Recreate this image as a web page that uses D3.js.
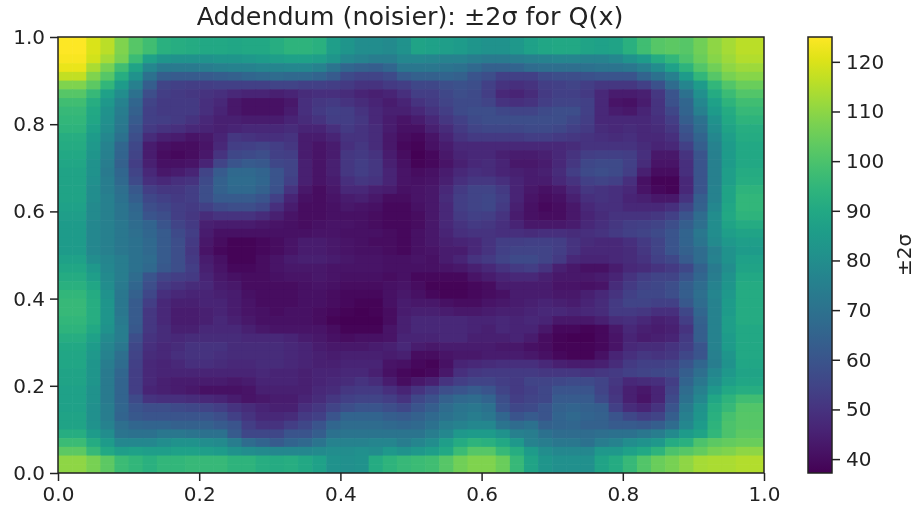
<!DOCTYPE html>
<html><head><meta charset="utf-8">
<style>html,body{margin:0;padding:0;background:#fff}svg{display:block;filter:blur(0.45px)}text{font-family:"DejaVu Sans",sans-serif;fill:#222}</style>
<script src="https://cdn.jsdelivr.net/npm/d3@7"></script></head><body><svg id="c" width="917" height="510"></svg>
<script>
const titleText="Addendum (noisier): ±2σ for Q(x)";
const colorbarLabel="±2σ";
const axisTicks=[0,0.2,0.4,0.6,0.8,1.0];
const colorTicks=[40,50,60,70,80,90,100,110,120];
const colorRange=[37.2,125];
// sigma, top row first, 50 columns left to right
const sigmaRows=[
[125,125,120,116,108,102,98,93,92,91,90,90,89,90,90,92,94,94,93,86,83,80,80,79,82,88,87,86,85,83,82,82,84,87,89,90,90,88,87,88,93,98,102,103,102,106,110,113,116,116],
[125,125,120,116,108,102,98,93,92,91,90,90,89,90,90,92,94,94,93,86,83,80,80,79,82,88,87,86,85,83,82,82,84,87,89,90,90,88,87,88,93,98,102,103,102,106,110,113,116,116],
[124,124,119,113,107,97,87,83,82,82,82,83,83,84,85,86,87,87,86,83,78,76,74,74,78,78,77,76,76,74,73,73,74,75,76,77,77,76,76,78,82,85,91,95,100,105,109,112,115,115],
[122,122,114,107,98,88,78,73,73,73,74,75,76,76,77,77,78,78,76,71,66,64,63,66,72,72,72,71,70,67,64,64,65,68,69,69,69,70,71,71,72,75,80,87,94,101,106,110,112,112],
[117,117,108,102,92,82,70,63,62,62,62,63,64,66,67,68,67,67,65,62,57,55,55,57,62,64,64,65,64,60,58,54,54,54,57,58,58,59,60,60,60,65,70,75,85,95,102,107,109,109],
[108,108,103,95,85,75,63,55,54,53,53,54,54,54,54,55,55,54,54,53,52,50,50,52,53,56,56,58,59,58,54,50,49,50,53,54,55,53,51,51,51,54,59,68,77,85,95,101,105,105],
[102,102,96,87,80,70,58,53,52,51,50,49,47,46,46,45,46,48,49,49,48,46,45,46,49,53,53,56,58,57,53,47,46,48,52,54,54,52,47,44,44,45,51,60,70,81,91,97,101,101],
[98,98,92,84,76,66,55,52,52,52,49,47,43,41,41,41,43,49,51,52,50,48,46,44,46,50,52,55,57,57,55,50,49,50,53,55,55,54,47,42,41,44,50,59,66,78,87,94,98,98],
[96,96,90,82,74,64,54,52,52,52,49,46,43,41,41,41,44,49,52,54,53,50,47,45,45,47,50,53,57,58,58,56,55,55,57,58,58,54,47,44,43,46,50,56,65,75,85,91,96,96],
[95,95,89,81,73,62,54,53,52,50,47,45,45,44,44,44,46,48,50,53,53,51,47,44,42,44,47,51,54,57,58,58,58,58,58,58,56,53,47,47,47,47,49,53,63,70,82,90,94,94],
[94,94,87,80,72,60,52,50,49,47,46,45,46,47,47,47,48,46,46,49,52,50,48,44,41,41,45,48,52,55,56,56,56,57,57,56,54,52,48,47,48,47,48,51,60,68,80,88,92,92],
[92,92,85,78,70,58,48,45,44,42,43,46,51,50,49,49,50,44,44,46,50,50,48,43,40,39,42,46,50,52,52,52,52,53,53,52,51,50,49,48,49,47,47,49,58,65,78,86,91,91],
[91,91,84,76,66,56,44,41,40,40,42,47,53,54,55,53,51,44,42,44,49,51,48,43,39,38,41,44,47,47,47,47,47,47,47,47,48,50,50,50,50,48,46,47,54,63,76,85,90,90],
[90,90,83,75,65,55,44,40,39,40,43,50,56,57,58,54,53,44,42,44,51,52,50,44,40,37,39,43,46,47,47,45,44,44,45,47,50,53,54,54,53,49,43,43,50,60,75,85,90,90],
[89,89,82,74,64,53,45,41,41,42,46,55,60,62,61,56,55,45,42,45,51,53,51,45,41,38,39,42,45,47,48,46,43,43,44,47,51,56,57,57,54,48,42,42,49,60,75,85,90,90],
[88,88,82,73,66,55,47,43,44,46,55,62,67,67,65,60,55,45,42,45,51,53,51,46,42,40,41,44,47,49,48,46,45,44,45,48,53,57,58,57,53,45,40,40,49,60,75,86,91,91],
[88,88,81,74,67,57,49,47,49,50,57,64,68,68,66,60,54,45,42,44,49,51,50,46,42,41,42,45,49,51,51,49,46,44,44,47,50,54,55,54,49,41,38,38,47,60,75,86,92,92],
[88,88,80,74,69,61,53,51,51,53,58,64,67,67,64,59,50,43,40,43,47,47,45,44,41,42,43,47,52,55,55,52,46,43,41,43,47,51,50,49,47,42,39,38,47,60,76,88,94,94],
[88,88,80,75,70,63,56,54,52,53,58,62,62,62,60,54,46,41,40,42,44,45,43,40,40,42,43,48,53,55,56,53,46,42,40,41,45,49,50,49,46,45,43,43,50,63,76,88,95,95],
[87,87,79,75,71,66,58,56,53,52,54,57,58,58,56,49,44,40,40,41,43,42,41,39,39,41,43,47,53,55,56,52,45,41,39,40,43,47,49,49,47,47,47,49,55,64,78,89,95,95],
[86,86,79,75,71,67,60,58,53,51,48,50,50,50,48,45,42,40,40,41,41,41,40,39,39,40,43,47,52,54,53,50,44,41,40,40,43,46,48,50,50,50,51,54,60,68,80,90,94,94],
[85,85,78,75,72,68,65,60,55,52,45,44,44,44,43,42,41,40,41,42,42,41,40,39,39,40,43,47,50,52,51,49,46,43,43,43,44,47,49,51,53,54,55,58,63,69,80,88,91,91],
[85,85,78,75,72,69,66,62,57,53,44,41,41,41,41,41,41,41,42,42,41,41,41,40,39,41,43,46,49,50,50,49,49,48,49,49,48,49,50,52,54,55,57,60,65,72,80,86,88,88],
[85,85,78,75,72,70,67,62,58,52,43,40,38,38,39,40,42,44,44,43,42,41,40,40,39,41,43,45,46,47,50,53,53,54,54,53,50,48,47,47,49,52,55,60,65,71,79,84,86,86],
[85,85,78,75,72,70,67,62,58,51,42,39,38,38,39,40,42,44,44,43,42,41,41,40,39,41,42,44,44,47,50,54,55,55,55,53,50,47,47,47,48,51,55,60,64,68,75,82,85,85],
[87,87,80,77,74,70,68,62,58,52,44,41,38,38,40,42,44,45,45,44,43,42,42,41,41,42,41,44,46,50,52,55,57,57,55,52,47,46,46,47,48,50,54,56,62,68,76,82,87,87],
[89,89,84,78,74,70,67,61,58,53,45,42,39,39,40,42,43,43,43,42,42,42,42,41,41,41,41,42,43,45,47,50,52,53,50,45,43,41,41,44,47,48,50,52,56,64,73,80,88,88],
[91,91,86,79,74,68,60,55,53,52,46,43,41,40,40,41,42,42,43,42,41,41,41,40,41,39,39,39,39,42,44,46,47,47,45,43,43,43,44,46,50,53,55,55,60,66,74,82,90,90],
[93,93,89,80,73,66,58,52,50,48,47,44,43,40,40,40,40,41,42,41,40,40,40,41,42,40,38,38,38,39,40,44,44,44,44,42,42,41,42,48,52,55,56,58,63,68,76,83,91,91],
[95,95,91,82,72,64,56,49,47,46,46,45,44,41,40,40,40,41,41,40,39,39,39,41,43,41,39,38,38,39,40,41,44,44,44,43,43,45,47,50,54,56,56,58,63,69,77,84,91,91],
[96,96,92,83,72,62,53,47,45,45,46,46,44,42,40,40,40,41,41,40,39,38,38,41,44,43,43,41,40,40,42,43,44,45,46,45,44,46,48,52,55,55,54,54,61,68,76,85,91,91],
[96,96,92,83,72,62,51,47,44,44,45,46,44,42,41,40,41,41,40,39,38,37,38,40,44,45,45,44,43,43,44,45,45,46,47,47,46,47,48,52,52,51,49,49,56,66,76,85,91,91],
[95,95,92,83,73,62,51,47,44,44,45,47,45,43,41,41,41,41,40,38,37,37,37,40,45,47,47,47,47,46,46,47,46,47,46,43,43,43,45,48,49,47,45,46,53,64,76,86,91,91],
[94,94,90,82,74,61,51,48,45,45,47,47,47,45,43,42,42,42,42,40,38,38,38,42,45,47,47,47,47,46,45,47,46,46,43,39,39,38,39,43,47,45,44,45,50,63,76,86,90,90],
[92,92,87,79,74,58,50,48,47,48,48,48,48,47,47,47,46,44,43,41,40,41,41,42,46,46,46,47,47,45,45,45,46,44,40,38,37,37,39,42,46,44,45,46,52,63,76,85,90,90],
[90,90,85,77,72,56,49,47,48,50,50,50,48,48,48,48,47,46,44,43,43,43,44,45,47,44,43,44,44,44,44,43,43,41,40,38,38,38,39,42,47,48,48,50,53,60,76,85,90,90],
[89,89,84,76,69,55,48,47,49,50,50,49,48,48,48,48,47,46,45,44,45,45,45,44,45,40,40,42,43,43,44,44,44,43,41,39,38,38,41,46,49,51,50,51,56,60,75,83,90,90],
[89,89,83,74,68,54,47,46,47,49,49,48,47,47,48,48,47,46,45,45,46,46,46,42,41,39,38,41,46,47,48,49,49,49,47,45,44,44,45,48,52,54,54,55,60,66,74,82,89,89],
[88,88,83,73,66,53,47,46,46,46,46,46,46,46,47,46,46,45,46,46,47,47,45,41,39,38,39,43,49,51,52,52,52,52,51,51,51,50,51,52,54,55,56,57,63,69,78,84,88,88],
[88,88,83,73,65,53,47,45,44,44,44,44,43,44,46,46,46,45,46,47,48,50,48,44,40,43,45,50,53,55,55,53,52,55,55,56,57,57,55,51,47,48,49,53,65,72,80,86,89,89],
[87,87,82,73,65,53,46,45,44,43,41,41,41,42,45,45,45,45,47,48,51,52,52,49,46,50,54,58,60,62,60,55,52,54,56,60,60,60,55,50,45,43,46,55,68,75,84,90,92,92],
[87,87,82,73,65,57,50,49,49,48,47,46,44,42,43,44,44,46,48,51,54,55,55,53,50,56,59,64,67,68,65,58,53,55,56,62,62,62,57,51,45,42,46,57,70,78,89,94,98,98],
[87,87,81,74,66,60,58,58,57,56,55,53,50,48,46,45,45,49,51,55,58,60,60,58,56,60,63,68,71,72,70,60,56,57,60,64,65,64,63,54,48,46,50,60,73,82,92,96,101,101],
[88,88,81,74,65,61,60,60,60,60,60,58,54,50,47,47,48,52,54,60,65,65,65,63,62,64,67,70,72,74,72,66,60,62,60,65,67,65,64,60,56,53,55,63,75,83,93,99,102,102],
[88,88,82,76,69,66,65,65,64,64,64,62,60,53,50,50,53,56,60,66,68,68,68,67,66,67,70,74,76,78,78,71,68,70,64,65,66,64,64,62,62,61,63,68,78,85,94,100,102,102],
[92,92,85,80,71,70,70,72,72,71,70,70,62,56,56,56,60,60,63,70,71,71,71,71,71,71,74,78,84,85,85,82,75,74,70,68,68,68,69,70,70,72,74,79,85,88,95,100,103,103],
[97,97,91,85,78,78,78,80,82,82,80,79,74,68,65,62,65,67,71,76,76,76,77,77,74,77,80,86,91,94,93,90,84,76,74,72,72,70,74,76,80,82,84,91,93,100,103,104,105,105],
[103,103,96,90,86,87,86,86,87,87,86,85,82,80,79,78,78,78,79,80,80,81,80,84,82,84,86,90,97,102,102,96,92,85,80,78,78,78,84,84,87,90,94,100,102,104,107,108,110,110],
[110,110,107,103,97,95,93,95,95,96,96,96,94,94,92,91,92,90,87,82,81,82,91,94,96,97,98,102,106,108,108,105,96,88,83,81,81,81,88,91,96,101,105,107,110,113,114,114,115,115],
[110,110,107,103,97,95,93,95,95,96,96,96,94,94,92,91,92,90,87,82,81,82,91,94,96,97,98,102,106,108,108,105,96,88,83,81,81,81,88,91,96,101,105,107,110,113,114,114,115,115]
];

const W=917,H=510,L=58,R=764,T=37,B=473,CL=808,CR=832;
const svg=d3.select("#c");
const x=d3.scaleLinear().domain([0,1]).range([L,R]);
const y=d3.scaleLinear().domain([0,1]).range([B,T]);
const nRows=sigmaRows.length,nCols=sigmaRows[0].length;
const col=d3.scaleBand().domain(d3.range(nCols)).range([L,R]);
const row=d3.scaleBand().domain(d3.range(nRows)).range([T,B]);
const cs=d3.scaleLinear().domain(colorRange).range([B,T]);
const color=d3.scaleSequential(d3.interpolateViridis).domain(colorRange);

const cells=sigmaRows.flatMap((r,i)=>r.map((v,j)=>({i,j,v})));
svg.append("g").selectAll("rect").data(cells).join("rect")
 .attr("x",d=>col(d.j)).attr("y",d=>row(d.i))
 .attr("width",d=>col.bandwidth()+(d.j<nCols-1?0.6:0)).attr("height",d=>row.bandwidth()+(d.i<nRows-1?0.6:0))
 .attr("fill",d=>color(d.v));

const fmt=d3.format(".1f");
const INK="#222";
function style(g){
 g.select(".domain").remove();
 g.selectAll(".tick line").attr("stroke",INK).attr("stroke-width",1.5);
 g.selectAll(".tick text").attr("font-size",20).attr("fill",INK);
}
svg.append("g").attr("transform",`translate(0,${B})`)
 .call(d3.axisBottom(x).tickValues(axisTicks).tickFormat(fmt).tickSize(8).tickPadding(6)).call(style);
svg.append("g").attr("transform",`translate(${L},0)`)
 .call(d3.axisLeft(y).tickValues(axisTicks).tickFormat(fmt).tickSize(8).tickPadding(5)).call(style);
svg.append("rect").attr("x",L).attr("y",T).attr("width",R-L).attr("height",B-T)
 .attr("fill","none").attr("stroke",INK).attr("stroke-width",1.5);

// colorbar
const defs=svg.append("defs");
const grad=defs.append("linearGradient").attr("id","vir").attr("x1",0).attr("x2",0).attr("y1",1).attr("y2",0);
d3.range(0,1.0001,0.05).forEach(t=>grad.append("stop").attr("offset",t).attr("stop-color",d3.interpolateViridis(t)));
svg.append("rect").attr("x",CL).attr("y",T).attr("width",CR-CL).attr("height",B-T).attr("fill","url(#vir)");
svg.append("g").attr("transform",`translate(${CR},0)`)
 .call(d3.axisRight(cs).tickValues(colorTicks).tickSize(8).tickPadding(6)).call(style);
svg.append("rect").attr("x",CL).attr("y",T).attr("width",CR-CL).attr("height",B-T)
 .attr("fill","none").attr("stroke",INK).attr("stroke-width",1.5);

svg.append("text").attr("x",(L+R)/2-1).attr("y",25).attr("text-anchor","middle").attr("font-size",25.4).text(titleText);
svg.append("text").attr("transform",`translate(911,${(T+B)/2}) rotate(-90)`).attr("text-anchor","middle").attr("font-size",20).text(colorbarLabel);
</script></body></html>
